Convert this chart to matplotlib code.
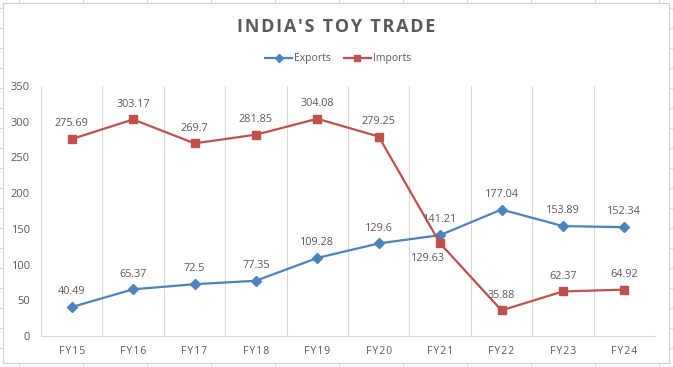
"""India's toy trade: exports vs imports, FY15-FY24."""

import matplotlib.pyplot as plt
from matplotlib.lines import Line2D
from matplotlib.patches import Rectangle

years = ['FY15', 'FY16', 'FY17', 'FY18', 'FY19', 'FY20', 'FY21', 'FY22', 'FY23', 'FY24']
exports = [40.49, 65.37, 72.5, 77.35, 109.28, 129.6, 141.21, 177.04, 153.89, 152.34]
imports = [275.69, 303.17, 269.7, 281.85, 304.08, 279.25, 129.63, 35.88, 62.37, 64.92]
export_labels = ['40.49', '65.37', '72.5', '77.35', '109.28', '129.6', '141.21', '177.04', '153.89', '152.34']
import_labels = ['275.69', '303.17', '269.7', '281.85', '304.08', '279.25', '129.63', '35.88', '62.37', '64.92']

BLUE = '#4F81BD'
RED = '#C0504D'
TEXT = '#595959'
GRID = '#D9D9D9'

plt.rcParams['font.family'] = ['Open Sans', 'DejaVu Sans']

W, H = 673, 367
fig = plt.figure(figsize=(W / 100, H / 100), dpi=100)


def fx(px):
    return px / W


def fy(py):
    return 1 - py / H


# spreadsheet cell lines peeking out around the chart
for x in range(19, W, 64):
    fig.add_artist(Line2D([fx(x), fx(x)], [0, 1], color='#DADADA', lw=0.8, zorder=0))
for y in range(8, H, 20):
    fig.add_artist(Line2D([0, 1], [fy(y), fy(y)], color='#DADADA', lw=0.8, zorder=0))

# chart area box
fig.add_artist(Rectangle((fx(3), fy(363)), fx(666), 360 / H, facecolor='white',
                         edgecolor='#D0D0D0', lw=0.8, zorder=1))

ax = fig.add_axes([fx(41), fy(336), fx(655 - 41), (336 - 86) / H], zorder=2)
ax.set_facecolor('none')
x = list(range(len(years)))

ax.plot(x, exports, color=BLUE, lw=1.6, marker='D', ms=5, label='Exports', zorder=3)
ax.plot(x, imports, color=RED, lw=1.6, marker='s', ms=6, label='Imports', zorder=3)

ax.set_xlim(-0.5, len(years) - 0.5)
ax.set_ylim(0, 350)
ax.set_yticks(range(0, 351, 50))
ax.set_xticks(x)
ax.set_xticklabels(['\u200a'.join(y) for y in years])
ax.tick_params(axis='both', length=0, labelsize=7.5, colors=TEXT)
ax.tick_params(axis='y', labelsize=8)
ax.tick_params(axis='x', pad=7)
ax.tick_params(axis='y', pad=8)

# vertical gridlines between categories
for b in range(len(years) + 1):
    ax.axvline(b - 0.5, color=GRID, lw=0.8, zorder=1)
for side in ['top', 'right', 'left']:
    ax.spines[side].set_visible(False)
ax.spines['bottom'].set_color(GRID)
ax.spines['bottom'].set_linewidth(0.8)

for i, (v, s) in enumerate(zip(exports, export_labels)):
    ax.annotate(s, (i, v), xytext=(0, 7), textcoords='offset points',
                ha='center', va='bottom', fontsize=7.8, color=TEXT)
for i, (v, s) in enumerate(zip(imports, import_labels)):
    if i == 6:
        ax.annotate(s, (i, v), xytext=(-9, -7), textcoords='offset points',
                    ha='center', va='top', fontsize=7.8, color=TEXT)
    else:
        ax.annotate(s, (i, v), xytext=(0, 7), textcoords='offset points',
                    ha='center', va='bottom', fontsize=7.8, color=TEXT)

fig.text(fx(336), fy(27), '\u200a'.join("INDIA'S TOY TRADE"), ha='center', va='center',
         fontsize=13, fontweight='bold', color=TEXT)

fig.legend(loc='center', bbox_to_anchor=(fx(338), fy(59)), ncol=2, frameon=False,
           fontsize=7.5, labelcolor=TEXT, handlelength=2.6, handletextpad=0.2,
           columnspacing=1.2, markerscale=0.8)

fig.savefig('out.png', dpi=100)
